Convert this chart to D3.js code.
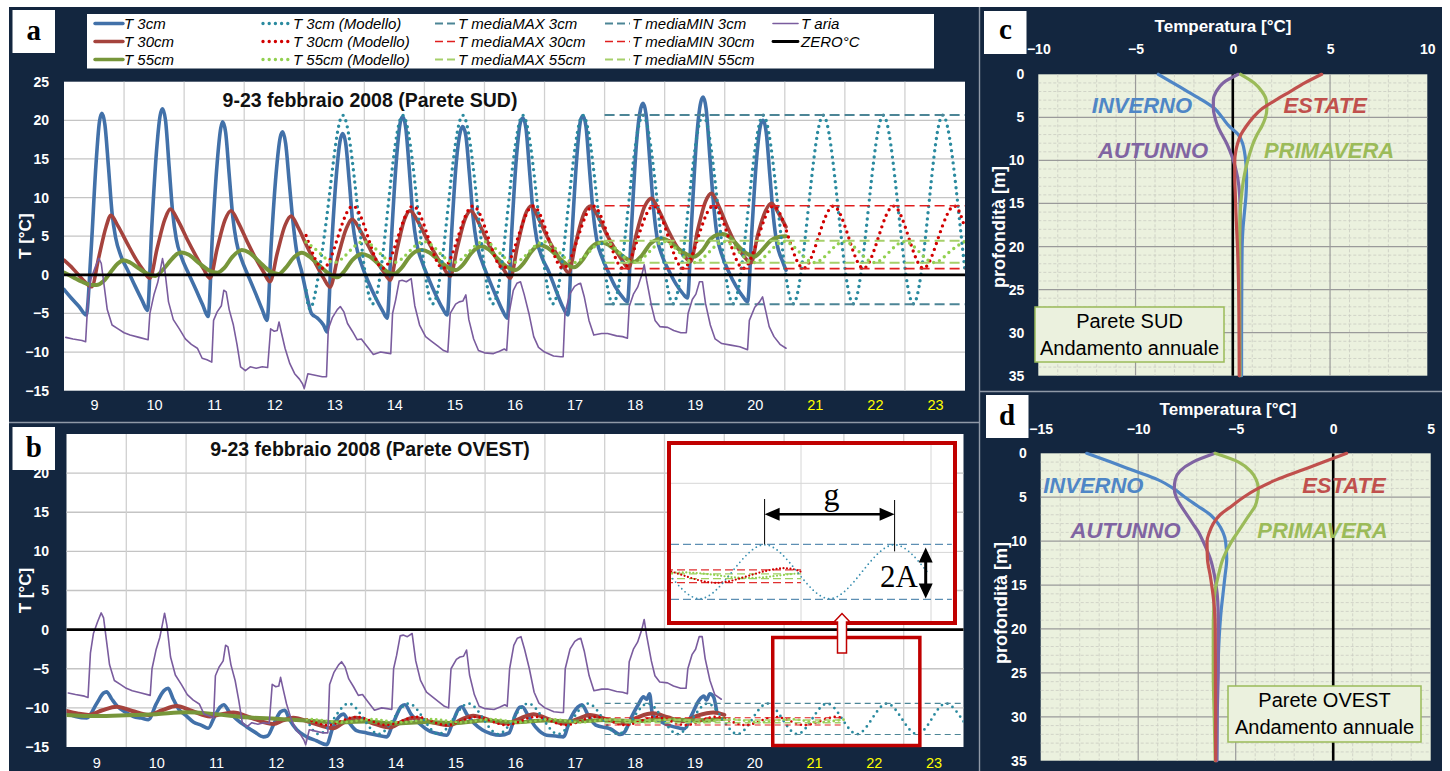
<!DOCTYPE html>
<html>
<head>
<meta charset="utf-8">
<script src="https://cdn.jsdelivr.net/npm/d3@7"></script>
<style>
  body { margin: 0; background: #fff; }
</style>
</head>
<body>
<svg id="chart" width="1450" height="771"></svg>
<script>
// ---------------- data ----------------
const dayLabels = [9, 10, 11, 12, 13, 14, 15, 16, 17, 18, 19, 20, 21, 22, 23];
const forecastDays = [21, 22, 23];
const tempTicks = [-15, -10, -5, 0, 5, 10, 15, 20, 25];

// panel a (Parete SUD) - [day, °C]
const aT3 = [[9.0,-1.9],[9.12,-3.0],[9.25,-4.1],[9.37,-5.2],[9.45,3.0],[9.53,14.0],[9.59,19.8],[9.63,20.9],
  [9.68,19.5],[9.74,14.0],[9.8,8.0],[9.86,4.8],[9.95,2.4],[10.06,0.6],[10.18,-1.4],[10.3,-3.3],[10.39,-4.6],
  [10.46,6.0],[10.54,16.0],[10.6,20.6],[10.64,21.5],[10.69,20.0],[10.75,14.0],[10.81,8.0],[10.87,4.6],[10.96,2.2],[11.06,0.4],[11.19,-1.8],[11.31,-3.9],[11.4,-5.4],
  [11.47,5.0],[11.55,14.5],[11.61,19.0],[11.64,19.8],[11.69,18.5],[11.75,13.0],[11.81,7.5],[11.87,4.3],[11.96,1.9],[12.06,0.0],[12.19,-2.4],[12.3,-4.5],[12.38,-5.9],
  [12.45,4.0],[12.53,13.0],[12.6,17.8],[12.64,18.5],[12.69,17.0],[12.75,12.0],[12.81,7.0],[12.87,3.2],[12.96,0.3],[13.06,-3.3],[13.12,-5.0],[13.22,-5.6],[13.32,-6.5],[13.38,-7.4],
  [13.45,3.0],[13.53,12.5],[13.6,17.5],[13.64,18.3],[13.69,17.0],[13.75,12.0],[13.81,6.5],[13.87,3.6],[13.96,1.2],[14.06,-0.8],[14.19,-3.0],[14.3,-4.6],[14.38,-5.6],
  [14.45,4.5],[14.53,14.5],[14.6,19.8],[14.64,20.5],[14.69,19.0],[14.75,13.5],[14.81,7.5],[14.87,4.1],[14.96,1.7],[15.06,-0.3],[15.19,-2.6],[15.3,-4.3],[15.38,-5.2],
  [15.45,5.0],[15.53,14.5],[15.6,18.6],[15.64,19.2],[15.69,18.0],[15.75,13.0],[15.81,7.5],[15.87,4.1],[15.96,1.7],[16.06,-0.3],[16.19,-2.7],[16.3,-4.6],[16.38,-5.6],
  [16.45,5.0],[16.53,15.0],[16.6,19.8],[16.64,20.3],[16.69,19.0],[16.75,13.5],[16.81,8.0],[16.87,4.6],[16.96,2.2],[17.06,0.6],[17.19,-2.0],[17.3,-4.1],[17.39,-5.2],
  [17.46,5.5],[17.54,15.5],[17.6,20.0],[17.64,20.6],[17.69,19.2],[17.75,13.5],[17.81,8.0],[17.87,4.5],[17.96,2.2],[18.06,0.4],[18.19,-1.7],[18.3,-2.9],[18.38,-3.5],
  [18.45,6.5],[18.53,17.0],[18.6,21.5],[18.64,22.2],[18.69,20.8],[18.75,15.0],[18.81,9.0],[18.87,5.0],[18.96,2.4],[19.06,0.7],[19.19,-1.2],[19.3,-2.4],[19.38,-3.0],
  [19.45,7.0],[19.53,17.5],[19.6,22.3],[19.64,23.0],[19.69,21.5],[19.75,15.5],[19.81,9.5],[19.87,5.2],[19.96,2.4],[20.06,0.5],[20.19,-1.5],[20.3,-2.8],[20.38,-3.5],
  [20.45,5.5],[20.53,15.0],[20.6,19.5],[20.64,20.0],[20.69,18.5],[20.75,13.0],[20.81,7.5],[20.87,4.0],[20.96,1.8],[21.02,0.6]];

const aT30 = [[9.0,1.9],[9.15,0.8],[9.3,-0.5],[9.46,-1.55],[9.58,2.3],[9.7,6.2],[9.78,7.7],[9.9,6.3],[10.05,4.1],[10.2,2.0],[10.32,0.6],[10.43,-0.45],
  [10.55,3.4],[10.68,7.2],[10.77,8.5],[10.9,7.0],[11.05,4.6],[11.2,2.4],[11.32,0.8],[11.43,-0.45],
  [11.55,3.4],[11.68,7.1],[11.78,8.3],[11.9,6.8],[12.05,4.3],[12.2,2.0],[12.32,0.4],[12.43,-0.9],
  [12.55,2.8],[12.68,6.4],[12.78,7.6],[12.9,6.1],[13.05,3.6],[13.2,1.3],[13.32,-0.4],[13.43,-1.6],
  [13.55,2.0],[13.7,6.0],[13.8,7.2],[13.92,5.9],[14.07,3.7],[14.2,1.8],[14.32,0.4],[14.43,-0.7],
  [14.55,3.5],[14.67,7.2],[14.76,8.3],[14.9,6.8],[15.05,4.5],[15.2,2.4],[15.32,0.9],[15.43,-0.15],
  [15.55,3.6],[15.68,7.3],[15.77,8.3],[15.9,6.8],[16.05,4.3],[16.2,2.1],[16.32,0.7],[16.43,-0.45],
  [16.55,3.8],[16.68,7.8],[16.78,8.9],[16.9,7.3],[17.05,4.8],[17.2,2.7],[17.3,1.3],[17.4,0.27],
  [17.52,4.2],[17.66,8.0],[17.77,8.9],[17.9,7.4],[18.05,5.0],[18.2,3.0],[18.3,1.8],[18.4,0.84],
  [18.52,5.0],[18.67,8.9],[18.78,9.9],[18.9,8.4],[19.05,5.9],[19.2,3.7],[19.32,2.5],[19.43,1.7],
  [19.55,5.8],[19.68,9.5],[19.78,10.55],[19.9,8.9],[20.05,6.1],[20.2,3.7],[20.32,2.4],[20.44,1.57],
  [20.55,5.2],[20.68,8.3],[20.78,9.26],[20.9,7.9],[21.02,6.2]];

const aT55 = [[9.0,0.3],[9.15,-0.3],[9.3,-0.9],[9.42,-1.25],[9.54,-1.32],[9.66,-0.8],[9.8,0.6],[9.9,1.5],[9.99,1.9],[10.1,1.6],[10.25,0.8],[10.4,0.1],[10.52,-0.15],
  [10.64,0.6],[10.78,1.9],[10.88,2.7],[10.96,2.9],[11.08,2.6],[11.25,1.5],[11.42,0.55],[11.55,0.27],
  [11.67,0.9],[11.8,2.3],[11.9,3.0],[11.96,3.2],[12.08,2.9],[12.25,1.7],[12.42,0.5],[12.57,0.1],
  [12.69,0.9],[12.82,2.2],[12.9,2.7],[12.96,2.86],[13.08,2.4],[13.25,1.2],[13.42,0.1],[13.55,-0.33],
  [13.67,0.5],[13.8,1.9],[13.9,2.55],[13.96,2.7],[14.08,2.4],[14.25,1.3],[14.38,0.4],[14.49,0.1],
  [14.62,0.9],[14.76,2.4],[14.88,3.1],[14.96,3.2],[15.08,2.9],[15.25,1.8],[15.4,0.9],[15.52,0.62],
  [15.64,1.3],[15.78,2.8],[15.88,3.5],[15.95,3.7],[16.07,3.3],[16.22,2.1],[16.38,1.0],[16.52,0.62],
  [16.64,1.4],[16.78,3.0],[16.87,3.7],[16.93,3.86],[17.05,3.5],[17.2,2.5],[17.36,1.4],[17.49,0.97],
  [17.62,1.8],[17.76,3.4],[17.88,4.1],[17.96,4.2],[18.08,3.8],[18.24,2.8],[18.38,2.0],[18.49,1.7],
  [18.62,2.5],[18.76,4.0],[18.88,4.6],[18.96,4.7],[19.08,4.3],[19.24,3.3],[19.38,2.6],[19.49,2.35],
  [19.62,3.1],[19.76,4.6],[19.88,5.2],[19.96,5.28],[20.08,4.9],[20.24,3.6],[20.38,2.7],[20.49,2.35],
  [20.62,3.2],[20.76,4.4],[20.9,4.9],[21.02,5.0]];

// air temperature (same sensor drawn on both panels)
const airT = [[9.03,-8.1],[9.15,-8.3],[9.3,-8.5],[9.36,-8.66],[9.4,-3.0],[9.45,-0.5],[9.52,1.0],[9.58,2.14],[9.62,1.5],[9.67,-1.5],[9.72,-4.5],[9.8,-6.5],[9.9,-7.0],[10.0,-7.5],[10.1,-7.8],[10.25,-8.1],[10.4,-8.4],
  [10.43,-5.0],[10.5,-2.5],[10.56,-1.0],[10.6,0.5],[10.64,2.1],[10.68,0.5],[10.74,-3.5],[10.82,-5.8],[10.92,-7.0],[11.02,-8.3],[11.12,-9.0],[11.22,-9.5],[11.3,-10.8],[11.38,-11.0],[11.46,-11.3],
  [11.49,-5.9],[11.55,-4.8],[11.62,-4.0],[11.66,-2.0],[11.7,-2.2],[11.75,-4.5],[11.82,-6.5],[11.88,-9.0],[11.94,-11.9],[12.02,-12.4],[12.1,-11.9],[12.2,-12.1],[12.3,-11.9],[12.39,-12.0],
  [12.44,-7.0],[12.5,-7.3],[12.55,-7.2],[12.58,-6.1],[12.62,-7.5],[12.68,-9.5],[12.76,-11.5],[12.84,-12.8],[12.92,-13.5],[12.97,-14.1],[13.0,-14.7],[13.06,-12.8],[13.18,-13.0],[13.3,-13.2],[13.37,-13.2],
  [13.4,-7.0],[13.47,-5.5],[13.55,-4.5],[13.6,-4.1],[13.66,-4.8],[13.72,-6.3],[13.8,-7.3],[13.88,-8.4],[13.95,-8.3],[14.05,-9.3],[14.15,-10.3],[14.27,-10.0],[14.36,-10.1],[14.44,-10.2],
  [14.47,-5.0],[14.52,-3.3],[14.58,-0.8],[14.63,-0.7],[14.7,-0.9],[14.78,-0.5],[14.84,-4.0],[14.92,-6.5],[15.02,-8.0],[15.12,-8.6],[15.22,-9.2],[15.32,-9.8],[15.39,-10.0],
  [15.43,-5.0],[15.52,-3.8],[15.58,-3.5],[15.64,-3.4],[15.69,-2.6],[15.74,-5.8],[15.82,-8.3],[15.9,-9.8],[16.0,-10.1],[16.15,-10.2],[16.25,-9.9],[16.33,-9.6],[16.37,-9.8],
  [16.41,-5.0],[16.48,-2.0],[16.54,-1.1],[16.6,-0.9],[16.66,-2.5],[16.74,-5.0],[16.82,-8.0],[16.9,-9.4],[17.0,-10.0],[17.15,-10.5],[17.27,-10.6],[17.31,-10.6],
  [17.34,-5.0],[17.42,-2.5],[17.5,-1.5],[17.56,-1.2],[17.6,-1.1],[17.66,-2.8],[17.74,-5.9],[17.82,-7.8],[17.95,-7.6],[18.05,-7.6],[18.2,-7.9],[18.3,-8.0],[18.38,-8.2],
  [18.41,-4.1],[18.48,-2.5],[18.55,-1.6],[18.62,0.0],[18.66,1.3],[18.7,-0.7],[18.78,-4.0],[18.84,-5.9],[18.92,-6.7],[19.05,-6.8],[19.15,-7.2],[19.27,-7.5],[19.36,-7.5],
  [19.39,-5.0],[19.46,-3.2],[19.52,-2.5],[19.58,-0.9],[19.63,-0.9],[19.68,-3.7],[19.76,-6.5],[19.84,-8.3],[19.95,-8.9],[20.1,-9.1],[20.25,-9.3],[20.38,-9.7],
  [20.41,-5.9],[20.5,-4.2],[20.58,-3.5],[20.63,-2.85],[20.68,-4.6],[20.74,-6.7],[20.82,-8.0],[20.92,-9.0],[21.02,-9.5]];

const aM3 = [[13.03,-2.0],[13.14,-3.75],[13.39,8.45],[13.64,20.65],[13.89,8.45],[14.14,-3.75],[14.39,8.45],[14.64,20.65],[14.89,8.45],
  [15.14,-3.75],[15.39,8.45],[15.64,20.65],[15.89,8.45],[16.14,-3.75],[16.39,8.45],[16.64,20.65],[16.89,8.45],
  [17.14,-3.75],[17.39,8.45],[17.64,20.65],[17.89,8.45],[18.14,-3.75],[18.39,8.45],[18.64,20.65],[18.89,8.45],
  [19.14,-3.75],[19.39,8.45],[19.64,20.65],[19.89,8.45],[20.14,-3.75],[20.39,8.45],[20.64,20.65],[20.89,8.45],
  [21.14,-3.75],[21.39,8.45],[21.64,20.65],[21.89,8.45],[22.14,-3.75],[22.39,8.45],[22.64,20.65],[22.89,8.45],
  [23.14,-3.75],[23.39,8.45],[23.64,20.65],[23.89,8.45],[24.0,0.5]];
const aM30 = [[13.03,5.1],[13.31,0.85],[13.56,4.9],[13.81,8.9],[14.06,4.9],[14.31,0.85],[14.56,4.9],[14.81,8.9],[15.06,4.9],
  [15.31,0.85],[15.56,4.9],[15.81,8.9],[16.06,4.9],[16.31,0.85],[16.56,4.9],[16.81,8.9],[17.06,4.9],
  [17.31,0.85],[17.56,4.9],[17.81,8.9],[18.06,4.9],[18.31,0.85],[18.56,4.9],[18.81,8.9],[19.06,4.9],
  [19.31,0.85],[19.56,4.9],[19.81,8.9],[20.06,4.9],[20.31,0.85],[20.56,4.9],[20.81,8.9],[21.06,4.9],
  [21.31,0.85],[21.56,4.9],[21.81,8.9],[22.06,4.9],[22.31,0.85],[22.56,4.9],[22.81,8.9],[23.06,4.9],
  [23.31,0.85],[23.56,4.9],[23.81,8.9],[24.0,6.0]];
const aM55 = [[13.03,4.25],[13.24,2.95],[13.49,1.6],[13.74,2.95],[13.99,4.3],[14.24,2.95],[14.49,1.6],[14.74,2.95],[14.99,4.3],
  [15.24,2.95],[15.49,1.6],[15.74,2.95],[15.99,4.3],[16.24,2.95],[16.49,1.6],[16.74,2.95],[16.99,4.3],
  [17.24,2.95],[17.49,1.6],[17.74,2.95],[17.99,4.3],[18.24,2.95],[18.49,1.6],[18.74,2.95],[18.99,4.3],
  [19.24,2.95],[19.49,1.6],[19.74,2.95],[19.99,4.3],[20.24,2.95],[20.49,1.6],[20.74,2.95],[20.99,4.3],
  [21.24,2.95],[21.49,1.6],[21.74,2.95],[21.99,4.3],[22.24,2.95],[22.49,1.6],[22.74,2.95],[22.99,4.3],
  [23.24,2.95],[23.49,1.6],[23.74,2.95],[23.99,4.3]];

const aLevelSpan = [18, 24];
const aLevels3 = [20.7, -3.8];
const aLevels30 = [8.95, 0.8];
const aLevels55 = [4.4, 1.55];

// panel b (Parete OVEST)
const bT3 = [[9.0,-10.7],[9.15,-11.1],[9.34,-11.3],[9.5,-9.5],[9.62,-8.1],[9.67,-7.95],[9.75,-8.8],[9.85,-9.8],[10.0,-10.6],[10.12,-11.1],[10.25,-11.3],[10.37,-11.5],
  [10.5,-9.5],[10.63,-7.8],[10.7,-7.5],[10.78,-8.8],[10.88,-10.2],[11.0,-11.0],[11.12,-11.8],[11.25,-12.2],[11.37,-12.6],
  [11.47,-11.2],[11.57,-9.9],[11.63,-9.6],[11.72,-10.5],[11.85,-11.5],[12.01,-12.4],[12.15,-13.1],[12.29,-13.7],[12.36,-13.6],
  [12.47,-12.0],[12.58,-10.5],[12.65,-10.3],[12.73,-11.5],[12.85,-12.8],[13.02,-13.7],[13.18,-14.2],[13.35,-14.7],
  [13.45,-12.6],[13.56,-11.1],[13.63,-10.8],[13.72,-11.8],[13.85,-12.9],[14.02,-13.2],[14.2,-13.5],[14.35,-13.7],
  [14.47,-11.8],[14.6,-9.8],[14.66,-9.6],[14.76,-10.8],[14.9,-12.0],[15.08,-13.0],[15.22,-13.3],[15.36,-13.5],
  [15.46,-11.8],[15.56,-10.1],[15.61,-9.85],[15.7,-10.9],[15.82,-12.0],[15.95,-12.8],[16.1,-13.3],[16.25,-13.5],[16.4,-13.2],
  [16.5,-11.0],[16.58,-9.9],[16.62,-9.85],[16.72,-11.0],[16.85,-12.5],[17.03,-13.5],[17.18,-13.6],[17.31,-13.7],
  [17.42,-11.5],[17.55,-9.9],[17.62,-9.6],[17.72,-10.9],[17.85,-12.2],[18.1,-12.7],[18.26,-13.4],[18.34,-13.0],
  [18.44,-11.3],[18.56,-9.6],[18.65,-8.6],[18.7,-8.9],[18.75,-8.2],[18.8,-10.9],[18.95,-11.8],[19.1,-12.3],[19.26,-12.6],[19.33,-12.7],
  [19.45,-11.0],[19.58,-9.0],[19.66,-8.5],[19.7,-9.0],[19.76,-8.2],[19.82,-8.6],[19.87,-10.3]];
const bT30 = [[9.0,-10.4],[9.2,-10.75],[9.37,-10.9],[9.6,-10.3],[9.84,-9.85],[10.1,-10.4],[10.37,-10.9],[10.6,-10.3],[10.84,-9.76],
  [11.1,-10.4],[11.4,-11.1],[11.6,-10.8],[11.79,-10.6],[12.1,-11.3],[12.46,-12.06],[12.62,-11.6],[12.79,-11.25],
  [13.1,-11.9],[13.46,-12.6],[13.65,-11.8],[13.84,-11.25],[14.1,-11.9],[14.41,-12.5],[14.6,-11.8],[14.8,-11.25],
  [15.1,-11.8],[15.41,-12.2],[15.6,-11.5],[15.8,-11.0],[16.1,-11.6],[16.36,-12.0],[16.6,-11.3],[16.81,-10.8],
  [17.05,-11.4],[17.31,-12.0],[17.55,-11.4],[17.75,-10.9],[18.05,-11.5],[18.31,-12.0],[18.55,-11.2],[18.81,-10.7],
  [19.05,-11.2],[19.31,-11.7],[19.55,-11.0],[19.82,-10.6],[20.0,-10.9]];
const bT55 = [[9.0,-10.9],[9.5,-11.05],[10.0,-10.95],[10.5,-10.8],[11.0,-10.55],[11.5,-10.8],[12.0,-11.2],[12.5,-11.4],
  [13.0,-11.6],[13.5,-11.85],[14.0,-11.75],[14.5,-12.0],[15.0,-11.8],[15.5,-11.95],[16.0,-11.6],[16.5,-11.85],
  [17.0,-11.6],[17.5,-11.75],[18.0,-11.55],[18.5,-11.7],[19.0,-11.45],[19.5,-11.6],[20.0,-11.4]];
const bAirEnd = 20.0;

const bM3 = [[13.02,-11.5],[13.22,-13.35],[13.47,-11.4],[13.72,-9.45],[13.97,-11.4],[14.22,-13.35],[14.47,-11.4],[14.72,-9.45],[14.97,-11.4],
  [15.22,-13.35],[15.47,-11.4],[15.72,-9.45],[15.97,-11.4],[16.22,-13.35],[16.47,-11.4],[16.72,-9.45],[16.97,-11.4],
  [17.22,-13.35],[17.47,-11.4],[17.72,-9.45],[17.97,-11.4],[18.22,-13.35],[18.47,-11.4],[18.72,-9.45],[18.97,-11.4],
  [19.22,-13.35],[19.47,-11.4],[19.72,-9.45],[19.97,-11.4],[20.22,-13.35],[20.47,-11.4],[20.72,-9.45],[20.97,-11.4],
  [21.22,-13.35],[21.47,-11.4],[21.72,-9.45],[21.97,-11.4],[22.22,-13.35],[22.47,-11.4],[22.72,-9.45],[22.97,-11.4],
  [23.22,-13.35],[23.47,-11.4],[23.72,-9.45],[23.97,-11.4],[24.0,-11.6]];
const bM30 = [[13.02,-11.45],[13.35,-12.2],[13.6,-11.68],[13.85,-11.15],[14.1,-11.68],[14.35,-12.2],[14.6,-11.68],[14.85,-11.15],
  [15.1,-11.68],[15.35,-12.2],[15.6,-11.68],[15.85,-11.15],[16.1,-11.68],[16.35,-12.2],[16.6,-11.68],[16.85,-11.15],
  [17.1,-11.68],[17.35,-12.2],[17.6,-11.68],[17.85,-11.15],[18.1,-11.68],[18.35,-12.2],[18.6,-11.68],[18.85,-11.15],
  [19.1,-11.68],[19.35,-12.2],[19.6,-11.68],[19.85,-11.15],[20.1,-11.68],[20.35,-12.2],[20.6,-11.68],[20.85,-11.15],
  [21.1,-11.68],[21.35,-12.2],[21.6,-11.68],[21.85,-11.15],[22.0,-11.4]];
const bM55 = [[13.02,-11.5],[13.1,-11.45],[13.35,-11.65],[13.6,-11.85],[13.85,-11.65],[14.1,-11.45],[14.35,-11.65],[14.6,-11.85],
  [14.85,-11.65],[15.1,-11.45],[15.35,-11.65],[15.6,-11.85],[15.85,-11.65],[16.1,-11.45],[16.35,-11.65],[16.6,-11.85],
  [16.85,-11.65],[17.1,-11.45],[17.35,-11.65],[17.6,-11.85],[17.85,-11.65],[18.1,-11.45],[18.35,-11.65],[18.6,-11.85],
  [18.85,-11.65],[19.1,-11.45],[19.35,-11.65],[19.6,-11.85],[19.85,-11.65],[20.1,-11.45],[20.35,-11.65],[20.6,-11.85],
  [20.85,-11.65],[21.1,-11.45],[21.35,-11.65],[21.6,-11.85],[21.85,-11.65],[22.0,-11.5]];

const bLevelSpan3 = [18, 24];
const bLevelSpan = [18, 22];
const bLevels3 = [-9.42, -13.4];
const bLevels30 = [-11.26, -12.19];
const bLevels55 = [-11.55, -11.9];
const bHighlight = [20.81, 23.27];   // days marked by the small red frame

// panels c, d: annual profiles (depth m -> °C)
const depthSteps = [0, 1, 2, 3, 4, 5, 6, 7, 8, 9, 10, 12, 14, 16, 18, 20, 25, 30, 35];
const sudInverno   = [-3.83,-3.08,-2.32,-1.57,-0.92,-0.55,-0.2,0.28,0.5,0.6,0.66,0.71,0.68,0.6,0.52,0.48,0.46,0.45,0.45];
const sudAutunno   = [0.28,-0.5,-0.85,-1.0,-1.0,-0.92,-0.78,-0.56,-0.32,-0.13,0.03,0.25,0.35,0.38,0.38,0.37,0.36,0.36,0.36];
const sudPrimavera = [0.4,1.1,1.5,1.72,1.75,1.68,1.5,1.25,1.05,0.9,0.77,0.57,0.45,0.38,0.36,0.35,0.35,0.36,0.37];
const sudEstate    = [4.57,3.7,2.95,2.2,1.5,1.05,0.7,0.42,0.25,0.15,0.1,0.1,0.13,0.16,0.2,0.24,0.3,0.32,0.33];
const ovestInverno   = [-12.64,-11.4,-10.2,-9.0,-8.2,-7.6,-6.95,-6.3,-5.9,-5.65,-5.52,-5.46,-5.55,-5.65,-5.75,-5.82,-5.92,-5.96,-5.97];
const ovestAutunno   = [-6.06,-7.2,-7.85,-8.1,-8.15,-8.05,-7.8,-7.5,-7.2,-6.9,-6.68,-6.3,-6.08,-5.95,-5.9,-5.89,-5.9,-5.95,-5.97];
const ovestPrimavera = [-6.06,-4.85,-4.25,-3.95,-3.84,-3.88,-4.0,-4.3,-4.6,-4.9,-5.2,-5.65,-5.9,-6.08,-6.13,-6.15,-6.15,-6.1,-6.05];
const ovestEstate    = [0.69,-0.5,-1.7,-2.9,-3.85,-4.6,-5.2,-5.8,-6.15,-6.35,-6.47,-6.45,-6.3,-6.17,-6.08,-6.05,-6.04,-6.03,-6.03];
const depthTicks = [0, 5, 10, 15, 20, 25, 30, 35];
const sudTempTicks = [-10, -5, 0, 5, 10];
const ovestTempTicks = [-15, -10, -5, 0, 5];

const legendCols = [
  ["T 3cm", "T 30cm", "T 55cm"],
  ["T 3cm (Modello)", "T 30cm (Modello)", "T 55cm (Modello)"],
  ["T mediaMAX 3cm", "T mediaMAX 30cm", "T mediaMAX 55cm"],
  ["T mediaMIN 3cm", "T mediaMIN 30cm", "T mediaMIN 55cm"],
  ["T aria", "ZERO°C"]
];

// ---------------- styles ----------------
const NAVY = "#13263f";
const SANS = '"Liberation Sans", Arial, sans-serif';
const SERIF = '"Liberation Serif", "DejaVu Serif", serif';
const sty = {
  t3:  { c: "#4271a9", w: 3.6 },
  t30: { c: "#a5433d", w: 3.6 },
  t55: { c: "#77963a", w: 4 },
  m3:  { c: "#2a8a9f", w: 3.4, dash: "0 6.2" },
  m30: { c: "#d20000", w: 3.4, dash: "0 6.2" },
  m55: { c: "#92d050", w: 3.4, dash: "0 6.2" },
  lv3: { c: "#4c8596", w: 2, dash: "10 5", cap: "butt" },
  lv30:{ c: "#e01e1e", w: 1.6, dash: "10 5", cap: "butt" },
  lv55:{ c: "#a6d06a", w: 2, dash: "10 5", cap: "butt" },
  air: { c: "#7a5c9e", w: 1.6 },
  zero:{ c: "#000", w: 2.8 }
};
const styB = Object.assign({}, sty, {
  m3:  { c: "#2a8a9f", w: 2.8, dash: "0 6" },
  m30: { c: "#d20000", w: 2.6, dash: "0 5" },
  m55: { c: "#92d050", w: 2.8, dash: "0 5" },
  lv3: { c: "#4c8596", w: 1.2, dash: "6 4", cap: "butt" },
  lv30:{ c: "#e01e1e", w: 1.2, dash: "6 4", cap: "butt" },
  lv55:{ c: "#a6d06a", w: 1.4, dash: "6 4", cap: "butt" },
  t30: { c: "#a5433d", w: 4 }
});

const svg = d3.select("#chart");
svg.append("rect").attr("width", 1450).attr("height", 771).attr("fill", "#fff");
svg.append("rect").attr("x", 9).attr("y", 7).attr("width", 1433).attr("height", 764).attr("fill", NAVY);
const sep = [[979.5, 7, 979.5, 771], [9, 422.5, 979, 422.5], [979, 391.5, 1442, 391.5]];
svg.selectAll(".sep").data(sep).join("line")
  .attr("x1", d => d[0]).attr("y1", d => d[1]).attr("x2", d => d[2]).attr("y2", d => d[3])
  .attr("stroke", "#8f99a7").attr("stroke-width", 1.4);

const lineGen = (x, y, curve) => d3.line().x(d => x(d[0])).y(d => y(d[1])).curve(curve || d3.curveMonotoneX);

function drawPath(g, data, x, y, st, curve) {
  g.append("path").datum(data)
    .attr("d", lineGen(x, y, curve))
    .attr("fill", "none")
    .attr("stroke", st.c)
    .attr("stroke-width", st.w)
    .attr("stroke-dasharray", st.dash || null)
    .attr("stroke-linecap", st.cap || "round")
    .attr("stroke-linejoin", "round");
}

const levelData = (span, v) => [[span[0], v], [span[1], v]];

// ---------------- time panels ----------------
function timePanel(id, x, y, o) {
  const [x0, x1] = x.range();
  const [yb, yt] = y.range();
  const g = svg.append("g");
  g.append("rect").attr("x", x0).attr("y", yt).attr("width", x1 - x0).attr("height", yb - yt).attr("fill", "#fff");
  g.selectAll(".hg").data(tempTicks.filter(v => v > -15 && v < 25)).join("line")
    .attr("x1", x0).attr("x2", x1).attr("y1", d => y(d)).attr("y2", d => y(d))
    .attr("stroke", "#c4c4c4").attr("stroke-width", 1.3);
  g.selectAll(".vg").data(dayLabels.slice(1)).join("line")
    .attr("x1", d => x(d)).attr("x2", d => x(d)).attr("y1", yt).attr("y2", yb)
    .attr("stroke", "#d0d0d0").attr("stroke-width", 1.3);

  const ya = g.append("g").attr("transform", `translate(${x0},0)`)
    .call(d3.axisLeft(y).tickValues(o.yTicks).tickSize(0).tickPadding(x0 - 49));
  ya.select(".domain").remove();
  ya.selectAll("text").attr("fill", "#fff").attr("font-size", 14).attr("font-weight", "bold").attr("font-family", SANS);

  const xa = g.append("g").attr("transform", `translate(0,${yb})`)
    .call(d3.axisBottom(x).tickValues(dayLabels.map(d => d + 0.5)).tickFormat(v => String(Math.round(v - 0.5)))
      .tickSize(0).tickPadding(o.xPad));
  xa.select(".domain").remove();
  xa.selectAll("text").attr("font-size", 14.5).attr("font-family", SANS)
    .attr("fill", v => forecastDays.includes(Math.round(v - 0.5)) ? "#ffff00" : "#fff");

  g.append("text").attr("transform", `translate(31,${(yt + yb) / 2}) rotate(-90)`)
    .attr("text-anchor", "middle").attr("fill", "#fff").attr("font-size", 17).attr("font-weight", "bold")
    .attr("font-family", SANS).text("T [°C]");

  g.append("text").attr("x", 370).attr("y", o.titleY).attr("text-anchor", "middle")
    .attr("font-size", 19.5).attr("font-weight", "bold").attr("font-family", SANS).attr("fill", "#111").text(o.title);

  svg.append("clipPath").attr("id", id).append("rect").attr("x", x0).attr("y", yt).attr("width", x1 - x0).attr("height", yb - yt);
  const p = g.append("g").attr("clip-path", `url(#${id})`);
  const s = o.sty;
  drawPath(p, o.t3, x, y, s.t3);
  drawPath(p, o.t30, x, y, s.t30);
  drawPath(p, o.t55, x, y, s.t55);
  drawPath(p, o.m3, x, y, s.m3, d3.curveNatural);
  drawPath(p, o.m30, x, y, s.m30, d3.curveNatural);
  drawPath(p, o.m55, x, y, s.m55, d3.curveNatural);
  o.lv3.forEach(v => drawPath(p, levelData(o.span3, v), x, y, s.lv3, d3.curveLinear));
  o.lv30.forEach(v => drawPath(p, levelData(o.span, v), x, y, s.lv30, d3.curveLinear));
  o.lv55.forEach(v => drawPath(p, levelData(o.span, v), x, y, s.lv55, d3.curveLinear));
  drawPath(p, o.air, x, y, s.air, d3.curveLinear);
  drawPath(p, [[9, 0], [24, 0]], x, y, s.zero, d3.curveLinear);
  return g;
}

const xA = d3.scaleLinear().domain([9, 24]).range([64, 965]);
const yA = d3.scaleLinear().domain([-15, 25]).range([390.7, 81.7]);
const xB = d3.scaleLinear().domain([9, 24]).range([66.5, 963.5]);
const yB = d3.scaleLinear().domain([-15, 25]).range([747, 434]);

timePanel("clipA", xA, yA, {
  xPad: 9, titleY: 107, title: "9-23 febbraio 2008 (Parete SUD)", sty: sty, yTicks: tempTicks,
  t3: aT3, t30: aT30, t55: aT55, m3: aM3, m30: aM30, m55: aM55, air: airT,
  lv3: aLevels3, lv30: aLevels30, lv55: aLevels55, span3: aLevelSpan, span: aLevelSpan
});
timePanel("clipB", xB, yB, {
  xPad: 11, titleY: 456, title: "9-23 febbraio 2008 (Parete OVEST)", sty: styB, yTicks: tempTicks.filter(v => v < 25),
  t3: bT3, t30: bT30, t55: bT55, m3: bM3, m30: bM30, m55: bM55, air: airT.filter(d => d[0] <= bAirEnd),
  lv3: bLevels3, lv30: bLevels30, lv55: bLevels55, span3: bLevelSpan3, span: bLevelSpan
});

// ---------------- inset (zoom of panel b) ----------------
const xI = d3.scaleLinear().domain([21, 23.2]).range([671, 957]);
const yI = d3.scaleLinear().domain([-15, -2.2]).range([621.5, 444.6]);
const inset = svg.append("g");
inset.append("rect").attr("x", 669).attr("y", 443).attr("width", 286).attr("height", 180).attr("fill", "#fff");
svg.append("clipPath").attr("id", "clipI").append("rect").attr("x", 669).attr("y", 443).attr("width", 286).attr("height", 180);
const ip = inset.append("g").attr("clip-path", "url(#clipI)");
[-5, -10].forEach(v => drawPath(ip, [[21, v], [23.2, v]], xI, yI, { c: "#d6d6d6", w: 1 }, d3.curveLinear));
[22, 23].forEach(v => drawPath(ip, [[v, -15], [v, -2.2]], xI, yI, { c: "#d6d6d6", w: 1 }, d3.curveLinear));
const insetSty = {
  lv3: { c: "#5d8fb3", w: 1.3, dash: "8 4", cap: "butt" },
  lv30: { c: "#e03030", w: 1.3, dash: "8 4", cap: "butt" },
  lv55: { c: "#9fd060", w: 1.3, dash: "8 4", cap: "butt" },
  m3: { c: "#3a8fb0", w: 1.8, dash: "0 4.5" },
  m30: { c: "#d00000", w: 2.2, dash: "0 3.5" },
  m55: { c: "#92d050", w: 2.2, dash: "0 3.5" }
};
bLevels3.forEach(v => drawPath(ip, levelData([21, 23.16], v), xI, yI, insetSty.lv3, d3.curveLinear));
bLevels30.forEach(v => drawPath(ip, levelData(bLevelSpan, v), xI, yI, insetSty.lv30, d3.curveLinear));
bLevels55.forEach(v => drawPath(ip, levelData(bLevelSpan, v), xI, yI, insetSty.lv55, d3.curveLinear));
drawPath(ip, bM55, xI, yI, insetSty.m55, d3.curveNatural);
drawPath(ip, bM30, xI, yI, insetSty.m30, d3.curveNatural);
drawPath(ip, bM3.filter(d => d[0] <= 23.2), xI, yI, insetSty.m3, d3.curveNatural);
inset.append("rect").attr("x", 669).attr("y", 443).attr("width", 286).attr("height", 180)
  .attr("fill", "none").attr("stroke", "#c00000").attr("stroke-width", 4);

// period arrow "g"
const gx0 = xI(21.72), gx1 = xI(22.72), gy = 514.3;
inset.append("line").attr("x1", gx0).attr("x2", gx0).attr("y1", 499).attr("y2", yI(-9.42)).attr("stroke", "#000").attr("stroke-width", 1);
inset.append("line").attr("x1", gx1).attr("x2", gx1).attr("y1", 500).attr("y2", yI(-9.42) + 7).attr("stroke", "#000").attr("stroke-width", 1);
inset.append("line").attr("x1", gx0 + 10).attr("x2", gx1 - 10).attr("y1", gy).attr("y2", gy).attr("stroke", "#000").attr("stroke-width", 2.6);
inset.append("path").attr("d", `M${gx0},${gy}L${gx0 + 15},${gy - 6.5}L${gx0 + 15},${gy + 6.5}Z`).attr("fill", "#000");
inset.append("path").attr("d", `M${gx1},${gy}L${gx1 - 15},${gy - 6.5}L${gx1 - 15},${gy + 6.5}Z`).attr("fill", "#000");
inset.append("text").attr("x", (gx0 + gx1) / 2 + 2).attr("y", 505).attr("text-anchor", "middle")
  .attr("font-family", SERIF).attr("font-size", 32).attr("fill", "#000").text("g");
// amplitude arrow "2A"
const ax = 925.7, ay0 = yI(-9.42) + 3, ay1 = yI(-13.4) - 1;
inset.append("line").attr("x1", ax).attr("x2", ax).attr("y1", ay0 + 10).attr("y2", ay1 - 10).attr("stroke", "#000").attr("stroke-width", 3);
inset.append("path").attr("d", `M${ax},${ay0}L${ax - 7},${ay0 + 15}L${ax + 7},${ay0 + 15}Z`).attr("fill", "#000");
inset.append("path").attr("d", `M${ax},${ay1}L${ax - 7},${ay1 - 15}L${ax + 7},${ay1 - 15}Z`).attr("fill", "#000");
inset.append("text").attr("x", 880).attr("y", 587).attr("font-family", SERIF).attr("font-size", 31).attr("fill", "#000").text("2A");

// highlighted region and pointer
svg.append("rect").attr("x", xB(bHighlight[0])).attr("y", 637.5).attr("width", xB(bHighlight[1]) - xB(bHighlight[0])).attr("height", 108)
  .attr("fill", "none").attr("stroke", "#c00000").attr("stroke-width", 3.5);
svg.append("path")
  .attr("d", "M837.5,653L846.5,653L846.5,622L850,622L842,613.5L834,622L837.5,622Z")
  .attr("fill", "#fff").attr("stroke", "#c00000").attr("stroke-width", 1.5);

// ---------------- panel labels ----------------
const panelTags = [["a", 12.5, 10, 33.7, 40], ["b", 12.5, 427, 33.7, 457], ["c", 984, 11, 1005.5, 39], ["d", 986, 395, 1007, 425]];
panelTags.forEach(p => {
  svg.append("rect").attr("x", p[1]).attr("y", p[2]).attr("width", 42.5).attr("height", 43).attr("fill", "#fff");
  svg.append("text").attr("x", p[3]).attr("y", p[4]).attr("text-anchor", "middle").attr("font-family", SERIF)
    .attr("font-weight", "bold").attr("font-size", 29).attr("fill", "#000").text(p[0]);
});

// ---------------- legend ----------------
const legendKeys = [["t3", "t30", "t55"], ["m3", "m30", "m55"], ["lv3", "lv30", "lv55"], ["lv3", "lv30", "lv55"], ["air", "zero"]];
const legSym = [[95, 123], [263, 291], [435, 456], [605, 630], [773, 798]];
const legText = [124, 293, 458, 632, 801];
const legRows = [23.5, 41.5, 59.5];
svg.append("rect").attr("x", 87).attr("y", 14).attr("width", 847).attr("height", 54.5).attr("fill", "#fff");
legendCols.forEach((col, ci) => {
  col.forEach((label, ri) => {
    const st = sty[legendKeys[ci][ri]];
    const ly = legRows[ri];
    svg.append("line").attr("x1", legSym[ci][0]).attr("x2", legSym[ci][1]).attr("y1", ly).attr("y2", ly)
      .attr("stroke", st.c).attr("stroke-width", Math.min(st.w, 3.4))
      .attr("stroke-dasharray", st.dash ? (st.cap === "butt" ? "8 4" : "0 6.2") : null)
      .attr("stroke-linecap", st.cap || "round");
    svg.append("text").attr("x", legText[ci]).attr("y", ly + 5).attr("font-family", SANS).attr("font-style", "italic")
      .attr("font-size", 15).attr("fill", "#000").text(label);
  });
});

// ---------------- profile panels ----------------
function profilePanel(id, x, y, o) {
  const [x0, x1] = x.range();
  const [y0, y1] = y.range();
  const g = svg.append("g");
  g.append("rect").attr("x", x0).attr("y", y0).attr("width", x1 - x0).attr("height", y1 - y0).attr("fill", "#ebf1de");
  const [t0, t1] = x.domain();
  const minorT = d3.range(t0 + 1, t1).filter(v => v % 5 !== 0);
  const minorD = d3.range(1, 35).filter(v => v % 5 !== 0);
  g.selectAll(".mt").data(minorT).join("line")
    .attr("x1", d => x(d)).attr("x2", d => x(d)).attr("y1", y0).attr("y2", y1)
    .attr("stroke", "#c9cbc2").attr("stroke-width", 0.8).attr("stroke-dasharray", "3 2");
  g.selectAll(".md").data(minorD).join("line")
    .attr("x1", x0).attr("x2", x1).attr("y1", d => y(d)).attr("y2", d => y(d))
    .attr("stroke", "#c9cbc2").attr("stroke-width", 0.8).attr("stroke-dasharray", "3 2");
  g.selectAll(".Mt").data(o.tempTicks.slice(1, -1)).join("line")
    .attr("x1", d => x(d)).attr("x2", d => x(d)).attr("y1", y0).attr("y2", y1)
    .attr("stroke", "#9a9a9a").attr("stroke-width", 1.2);
  g.selectAll(".Md").data(depthTicks.slice(1, -1)).join("line")
    .attr("x1", x0).attr("x2", x1).attr("y1", d => y(d)).attr("y2", d => y(d))
    .attr("stroke", "#9a9a9a").attr("stroke-width", 1.2);

  const xa = g.append("g").attr("transform", `translate(0,${y0})`)
    .call(d3.axisTop(x).tickValues(o.tempTicks).tickSize(0).tickPadding(o.topPad));
  xa.select(".domain").remove();
  xa.selectAll("text").attr("fill", "#fff").attr("font-size", 14).attr("font-weight", "bold").attr("font-family", SANS);
  const ya = g.append("g").attr("transform", `translate(${x0},0)`)
    .call(d3.axisLeft(y).tickValues(depthTicks).tickSize(0).tickPadding(14));
  ya.select(".domain").remove();
  ya.selectAll("text").attr("fill", "#fff").attr("font-size", 14).attr("font-weight", "bold").attr("font-family", SANS);

  g.append("text").attr("x", o.titleX).attr("y", o.titleY).attr("text-anchor", "middle").attr("fill", "#fff")
    .attr("font-size", 17).attr("font-weight", "bold").attr("font-family", SANS).text("Temperatura [°C]");
  g.append("text").attr("transform", `translate(${o.depthLabel[0]},${o.depthLabel[1]}) rotate(-90)`)
    .attr("text-anchor", "middle").attr("dominant-baseline", "central").attr("fill", "#fff")
    .attr("font-size", 18).attr("font-weight", "bold").attr("font-family", SANS).text("profondità [m]");

  // zero line
  g.append("line").attr("x1", x(0)).attr("x2", x(0)).attr("y1", y0).attr("y2", y1).attr("stroke", "#000").attr("stroke-width", 2.6);

  const pline = d3.line().x(d => x(d[0])).y(d => y(d[1])).curve(d3.curveMonotoneY);
  o.series.forEach(s => {
    g.append("path").datum(s.v.map((t, i) => [t, depthSteps[i]]))
      .attr("d", pline).attr("fill", "none").attr("stroke", s.c).attr("stroke-width", 3.2).attr("stroke-linecap", "round");
  });
  o.series.forEach(s => {
    g.append("text").attr("x", x(s.at[0])).attr("y", y(s.at[1])).attr("text-anchor", "middle")
      .attr("font-family", SANS).attr("font-weight", "bold").attr("font-style", "italic").attr("font-size", 22)
      .attr("fill", s.c).text(s.name);
  });

  const b = o.box;
  g.append("rect").attr("x", b[0]).attr("y", b[1]).attr("width", b[2]).attr("height", b[3])
    .attr("fill", "#ebf1de").attr("stroke", "#9bbb59").attr("stroke-width", 1.5);
  o.boxText.forEach((t, i) => {
    g.append("text").attr("x", b[0] + b[2] / 2).attr("y", b[1] + 21 + i * 27).attr("text-anchor", "middle")
      .attr("font-family", SANS).attr("font-size", 20).attr("fill", "#000").text(t);
  });
}

const xC = d3.scaleLinear().domain([-10, 10]).range([1038.3, 1427.3]);
const yC = d3.scaleLinear().domain([0, 35]).range([74.3, 375.7]);
const xD = d3.scaleLinear().domain([-15, 5]).range([1040.7, 1430.7]);
const yD = d3.scaleLinear().domain([0, 35]).range([453.3, 760.7]);

const seasonColors = { inverno: "#4f86c6", autunno: "#8064a2", primavera: "#9bbb59", estate: "#c0504d" };

profilePanel("c", xC, yC, {
  tempTicks: sudTempTicks, topPad: 20.5, titleX: 1223, titleY: 32, depthLabel: [999, 227],
  box: [1035, 307, 189, 55], boxText: ["Parete SUD", "Andamento annuale"],
  series: [
    { name: "INVERNO", v: sudInverno, c: seasonColors.inverno, at: [-4.67, 4.5] },
    { name: "AUTUNNO", v: sudAutunno, c: seasonColors.autunno, at: [-4.1, 9.7] },
    { name: "PRIMAVERA", v: sudPrimavera, c: seasonColors.primavera, at: [4.95, 9.7] },
    { name: "ESTATE", v: sudEstate, c: seasonColors.estate, at: [4.75, 4.5] }
  ]
});
profilePanel("d", xD, yD, {
  tempTicks: ovestTempTicks, topPad: 19.5, titleX: 1228, titleY: 415, depthLabel: [1001, 603],
  box: [1228, 686, 193, 56], boxText: ["Parete OVEST", "Andamento annuale"],
  series: [
    { name: "INVERNO", v: ovestInverno, c: seasonColors.inverno, at: [-12.3, 4.55] },
    { name: "AUTUNNO", v: ovestAutunno, c: seasonColors.autunno, at: [-10.65, 9.7] },
    { name: "PRIMAVERA", v: ovestPrimavera, c: seasonColors.primavera, at: [-0.55, 9.7] },
    { name: "ESTATE", v: ovestEstate, c: seasonColors.estate, at: [0.55, 4.55] }
  ]
});
</script>
</body>
</html>
